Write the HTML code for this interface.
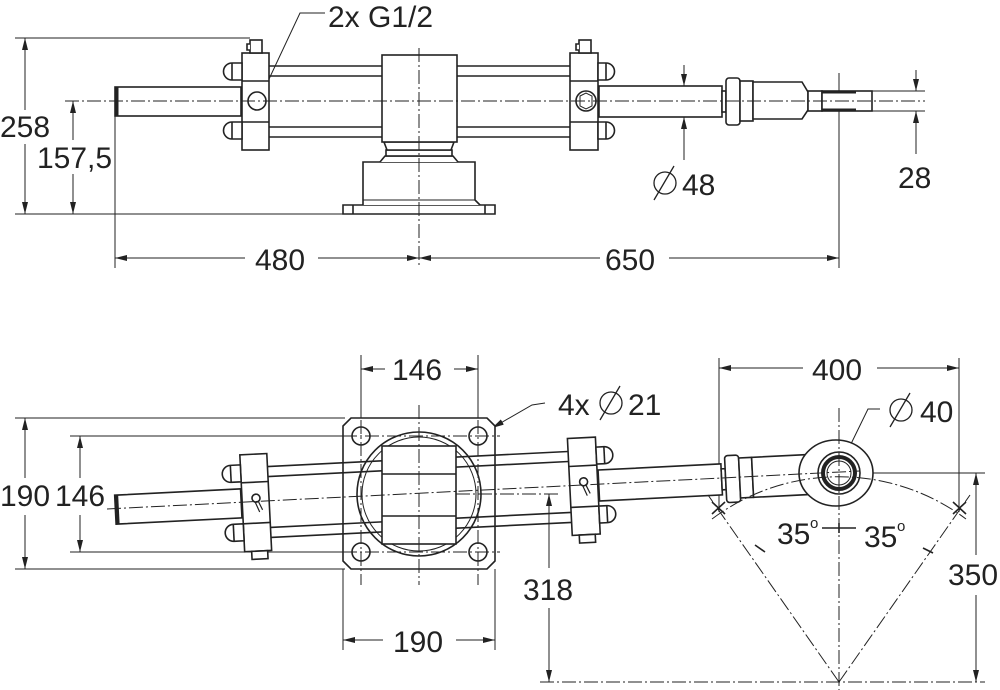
<!DOCTYPE html>
<html><head><meta charset="utf-8"><style>
html,body{margin:0;padding:0;background:#fff}
svg{display:block}
text{font-family:"Liberation Sans",Arial,sans-serif;font-size:30px;fill:#222}
</style></head><body>
<svg width="1000" height="690" viewBox="0 0 1000 690" xmlns="http://www.w3.org/2000/svg">
<defs>
<marker id="ar" viewBox="0 0 12 6" refX="12" refY="3" markerWidth="12" markerHeight="6" orient="auto-start-reverse" markerUnits="userSpaceOnUse"><path d="M0,0 L12,3 L0,6 z" fill="#222"/></marker>
<g id="cyl" fill="#fff" stroke="#222" stroke-width="1.6">
  <line x1="269" y1="-35" x2="570" y2="-35"/><line x1="269" y1="-25" x2="570" y2="-25"/>
  <line x1="269" y1="26" x2="570" y2="26"/><line x1="269" y1="36" x2="570" y2="36"/>
  <rect x="115" y="-14" width="126" height="29"/>
  <line x1="117" y1="-14" x2="117" y2="15" stroke-width="3"/>
  <rect x="242" y="-48" width="27" height="97"/>
  <line x1="242" y1="-20" x2="269" y2="-20"/><line x1="242" y1="21" x2="269" y2="21"/>
  <path d="M242,-38 h-10 a8,8 0 0 0 0,17 h10 z"/><line x1="232" y1="-38" x2="232" y2="-21"/>
  <path d="M242,21 h-10 a8,8 0 0 0 0,17 h10 z"/><line x1="232" y1="21" x2="232" y2="38"/>
  <rect x="570" y="-48" width="28" height="97"/>
  <line x1="570" y1="-20" x2="598" y2="-20"/><line x1="570" y1="21" x2="598" y2="21"/>
  <path d="M598,-38 h8 a8,8 0 0 1 0,17 h-8 z"/><line x1="606" y1="-38" x2="606" y2="-21"/>
  <path d="M598,21 h8 a8,8 0 0 1 0,17 h-8 z"/><line x1="606" y1="21" x2="606" y2="38"/>
  <rect x="599" y="-15" width="123" height="31"/>
  <rect x="722" y="-10" width="4" height="21"/>
  <rect x="726" y="-23" width="14" height="47" rx="3"/>
  <rect x="740" y="-20" width="13" height="40"/>
</g>
</defs>

<!-- ============ TOP VIEW ============ -->
<g stroke="#222" stroke-width="1" fill="none">
  <line x1="15" y1="38" x2="250" y2="38"/>
  <line x1="15" y1="214" x2="345" y2="214"/>
  <line x1="25" y1="38" x2="25" y2="110" marker-start="url(#ar)"/>
  <line x1="25" y1="144" x2="25" y2="214" marker-end="url(#ar)"/>
  <line x1="73" y1="101" x2="73" y2="140" marker-start="url(#ar)"/>
  <line x1="73" y1="174" x2="73" y2="214" marker-end="url(#ar)"/>
  <line x1="115" y1="116" x2="115" y2="268"/>
  <line x1="839" y1="73" x2="839" y2="268"/>
  <line x1="115" y1="258" x2="245" y2="258" marker-start="url(#ar)"/>
  <line x1="318" y1="258" x2="419" y2="258" marker-end="url(#ar)"/>
  <line x1="419" y1="258" x2="600" y2="258" marker-start="url(#ar)"/>
  <line x1="669" y1="258" x2="839" y2="258" marker-end="url(#ar)"/>
  <line x1="684" y1="65" x2="684" y2="86" marker-end="url(#ar)"/>
  <line x1="684" y1="160" x2="684" y2="117" marker-end="url(#ar)"/>
  <line x1="872" y1="91" x2="925" y2="91"/><line x1="872" y1="111" x2="925" y2="111"/>
  <line x1="916" y1="70" x2="916" y2="91" marker-end="url(#ar)"/>
  <line x1="916" y1="154" x2="916" y2="111" marker-end="url(#ar)"/>
  <polyline points="325,13 300,13 262,94"/>
</g>
<use href="#cyl" transform="translate(0,101)"/>
<g fill="#fff" stroke="#222" stroke-width="1.6">
  <rect x="250" y="40" width="12" height="13"/><path d="M250,44 h-3 v6 h3"/>
  <rect x="579" y="40" width="12" height="13"/><path d="M579,44 h-3 v6 h3"/>
  <circle cx="257" cy="101" r="9"/>
  <circle cx="586" cy="101" r="10"/><path d="M580,96 l6,-3 6,3 v10 l-6,3 -6,-3 z" stroke-width="1"/>
  <path d="M753,82 H802 L808,92 V110 L802,119 H753 Z"/>
  <rect x="808" y="91" width="14" height="20"/>
  <rect x="822" y="91" width="50" height="20"/>
  <line x1="822" y1="92" x2="856" y2="92" stroke-width="3"/><line x1="822" y1="110" x2="856" y2="110" stroke-width="3"/>
  <path d="M343,205 h152 v9 h-152 z"/>
  <line x1="353" y1="205" x2="353" y2="214"/><line x1="485" y1="205" x2="485" y2="214"/>
  <path d="M363,205 l0,-5 V162 H475 V200 l5,5"/>
  <line x1="363" y1="200" x2="475" y2="200" stroke-width="1"/>
  <path d="M380,162 l5,-6 h68 l5,6" />
  <rect x="386" y="150" width="66" height="6"/>
  <path d="M384,142 h70 l-3,8 h-64 z"/>
  <rect x="382" y="55" width="75" height="87"/>
</g>
<g stroke="#222" stroke-width="1" fill="none" stroke-dasharray="14,3,2,3">
  <line x1="65" y1="101" x2="925" y2="101"/>
  <line x1="419" y1="48" x2="419" y2="268"/>
</g>
<text x="328" y="27">2x G1/2</text>
<text x="0" y="137">258</text>
<text x="37" y="168">157,5</text>
<text x="255" y="270">480</text>
<text x="605" y="270">650</text>
<g stroke="#222" stroke-width="1.3" fill="none"><circle cx="665" cy="183" r="11"/><line x1="654" y1="200" x2="674" y2="166"/></g>
<text x="682" y="195">48</text>
<text x="898" y="188">28</text>

<!-- ============ BOTTOM VIEW ============ -->
<g stroke="#222" stroke-width="1" fill="none">
  <line x1="15" y1="418" x2="345" y2="418"/>
  <line x1="15" y1="569" x2="345" y2="569"/>
  <line x1="70" y1="436" x2="345" y2="436"/>
  <line x1="70" y1="552" x2="345" y2="552"/>
  <line x1="25" y1="418" x2="25" y2="478" marker-start="url(#ar)"/>
  <line x1="25" y1="515" x2="25" y2="569" marker-end="url(#ar)"/>
  <line x1="80" y1="436" x2="80" y2="478" marker-start="url(#ar)"/>
  <line x1="80" y1="515" x2="80" y2="552" marker-end="url(#ar)"/>
  <line x1="361" y1="355" x2="361" y2="418"/><line x1="478" y1="355" x2="478" y2="418"/>
  <line x1="361" y1="369" x2="385" y2="369" marker-start="url(#ar)"/>
  <line x1="454" y1="369" x2="478" y2="369" marker-end="url(#ar)"/>
  <line x1="343" y1="569" x2="343" y2="650"/><line x1="495" y1="569" x2="495" y2="650"/>
  <line x1="343" y1="640" x2="383" y2="640" marker-start="url(#ar)"/>
  <line x1="456" y1="640" x2="495" y2="640" marker-end="url(#ar)"/>
  <polyline points="545,403 532,405 492,428" marker-end="url(#ar)"/>
  <line x1="719" y1="358" x2="719" y2="512"/><line x1="959" y1="358" x2="959" y2="512"/>
  <line x1="719" y1="368" x2="803" y2="368" marker-start="url(#ar)"/>
  <line x1="877" y1="368" x2="959" y2="368" marker-end="url(#ar)"/>
  <line x1="860" y1="473" x2="985" y2="473"/>
  <line x1="976" y1="473" x2="976" y2="555" marker-start="url(#ar)"/>
  <line x1="976" y1="595" x2="976" y2="682" marker-end="url(#ar)"/>
  <line x1="549" y1="494" x2="549" y2="568" marker-start="url(#ar)"/>
  <line x1="549" y1="608" x2="549" y2="682" marker-end="url(#ar)"/>
  <polyline points="880,409 868,409 848,450"/>
  <line x1="822" y1="528" x2="856" y2="528" stroke-width="1.6"/>
  <line x1="839" y1="523" x2="839" y2="533" stroke-width="1.6"/>
</g>
<g fill="#fff" stroke="#222" stroke-width="1.6">
  <path d="M351,418 H487 L495,426 V561 L487,569 H351 L343,561 V426 Z"/>
  <circle cx="361" cy="436" r="9"/><circle cx="478" cy="436" r="9"/>
  <circle cx="361" cy="552" r="9"/><circle cx="478" cy="552" r="9"/>
  <circle cx="419" cy="494" r="62"/>
  <circle cx="419" cy="494" r="57" stroke-width="1"/>
</g>
<g transform="translate(419,494) rotate(-2.86) translate(-419,0)">
  <use href="#cyl"/>
  <g fill="#fff" stroke="#222" stroke-width="1.6">
    <rect x="249" y="49" width="16" height="8"/><rect x="577" y="49" width="16" height="8"/>
    <path d="M753,-20 H808 V20 H753 Z"/>
    <circle cx="256" cy="-4" r="4"/><path d="M255,0 l4,10 M258,-1 l4,9" stroke-width="1.2"/>
    <circle cx="584" cy="-4" r="4"/><path d="M583,0 l4,10 M586,-1 l4,9" stroke-width="1.2"/>
  </g>
</g>
<g fill="#fff" stroke="#222" stroke-width="1.6">
  <ellipse cx="836" cy="473" rx="37" ry="33"/>
  <circle cx="839" cy="473" r="21"/>
  <circle cx="839" cy="473" r="16" stroke-width="4"/>
  <circle cx="839" cy="473" r="12" stroke-width="1"/>
  <rect x="382" y="446" width="74" height="98"/>
  <line x1="382" y1="474" x2="456" y2="474"/><line x1="382" y1="516" x2="456" y2="516"/>
</g>
<g stroke="#222" stroke-width="1" fill="none" stroke-dasharray="14,3,2,3">
  <line x1="107" y1="509" x2="860" y2="471"/>
  <line x1="343" y1="436" x2="500" y2="436"/><line x1="343" y1="552" x2="500" y2="552"/>
  <line x1="361" y1="420" x2="361" y2="585"/><line x1="478" y1="420" x2="478" y2="585"/>
  <line x1="419" y1="405" x2="419" y2="585"/>
  <line x1="456" y1="494" x2="560" y2="494"/>
  <line x1="839" y1="408" x2="839" y2="690"/>
  <line x1="540" y1="682" x2="985" y2="682"/>
  <line x1="839" y1="682" x2="708" y2="495"/>
  <line x1="839" y1="682" x2="970" y2="495"/>
  <path d="M712,519 A212,212 0 0 1 966,519"/>
</g>
<g stroke="#222" stroke-width="1.6">
  <line x1="755" y1="545" x2="765" y2="552"/><line x1="923" y1="548" x2="933" y2="553"/>
  <line x1="712" y1="502" x2="725" y2="514"/><line x1="712" y1="514" x2="725" y2="502"/>
  <line x1="953" y1="502" x2="966" y2="514"/><line x1="953" y1="514" x2="966" y2="502"/>
</g>
<text x="0" y="506">190</text>
<text x="55" y="506">146</text>
<text x="392" y="380">146</text>
<text x="393" y="652">190</text>
<text x="558" y="415">4x</text>
<g stroke="#222" stroke-width="1.3" fill="none"><circle cx="611" cy="403" r="11"/><line x1="600" y1="420" x2="620" y2="386"/></g>
<text x="628" y="415">21</text>
<text x="812" y="380">400</text>
<g stroke="#222" stroke-width="1.3" fill="none"><circle cx="901" cy="410" r="11"/><line x1="890" y1="427" x2="910" y2="393"/></g>
<text x="920" y="422">40</text>
<text x="777" y="544">35</text>
<text x="810" y="528" style="font-size:15px">o</text>
<text x="864" y="547">35</text>
<text x="897" y="531" style="font-size:15px">o</text>
<text x="948" y="585">350</text>
<text x="523" y="600">318</text>
</svg>
</body></html>
